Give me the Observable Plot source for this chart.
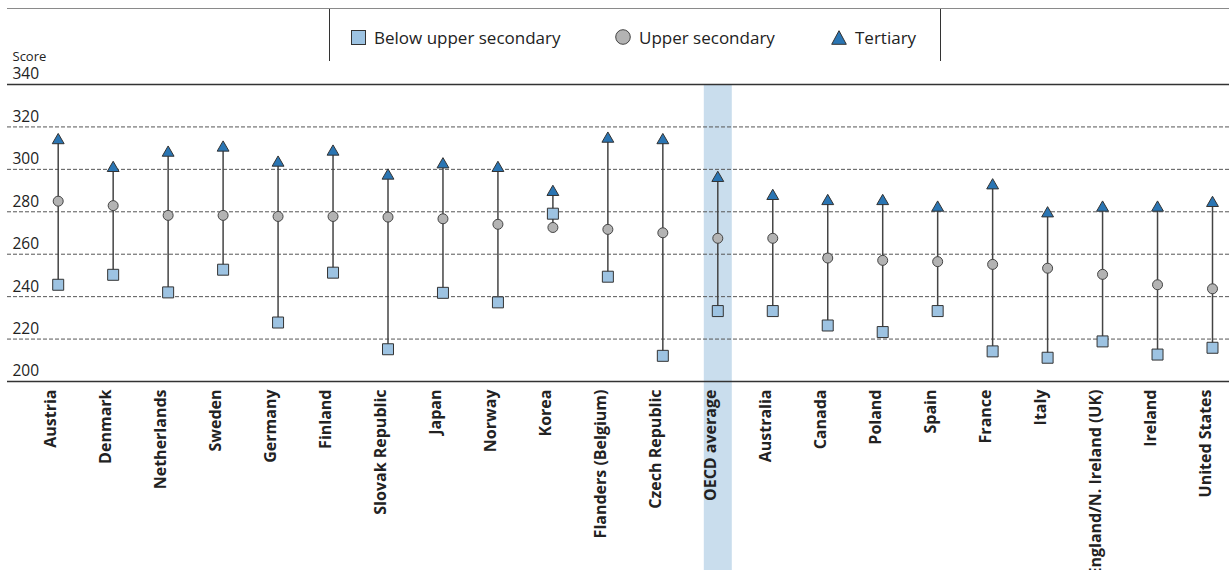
<!DOCTYPE html>
<html><head><meta charset="utf-8">
<script src="https://cdn.jsdelivr.net/npm/d3@7"></script>
<script src="https://cdn.jsdelivr.net/npm/@observablehq/plot@0.6"></script>
<style>
body{margin:0;background:#fff;font-family:"Open Sans",sans-serif;color:#222;}
#wrap{position:relative;width:1229px;height:570px;overflow:hidden;}
#chart{position:absolute;left:0;top:0;}
#topline{position:absolute;left:7px;right:0;top:8px;border-top:1.5px solid #8a8a8a;}
#legbox{position:absolute;left:329px;top:9px;width:610px;height:52px;border-left:1px solid #333;border-right:1px solid #333;}
.item{position:absolute;top:26px;height:22px;display:flex;align-items:center;font-size:17px;white-space:nowrap;}
.item svg{margin-right:8px;}
</style></head><body>
<div id="wrap"><div id="chart"></div><div id="topline"></div><div id="legbox"></div><div id="legend"></div></div>
<script>
const countries = ["Austria","Denmark","Netherlands","Sweden","Germany","Finland","Slovak Republic","Japan","Norway","Korea","Flanders (Belgium)","Czech Republic","OECD average","Australia","Canada","Poland","Spain","France","Italy","England/N. Ireland (UK)","Ireland","United States"];
const belowUpper = [245.6, 250.3, 242, 252.7, 227.8, 251.3, 215.2, 241.8, 237.3, 279.1, 249.4, 212.1, 233.2, 233.2, 226.4, 223.3, 233.2, 214.2, 211.2, 218.9, 212.7, 215.9];
const upperSecondary = [285, 282.9, 278.3, 278.3, 277.8, 277.8, 277.5, 276.7, 274.1, 272.6, 271.7, 270.1, 267.5, 267.5, 258.2, 257.1, 256.5, 255.2, 253.4, 250.5, 245.6, 243.7];
const tertiary = [313.7, 300.6, 307.8, 310.2, 303.1, 308.3, 297, 302.3, 300.6, 289.3, 314.4, 313.7, 295.9, 287.4, 285, 285, 281.9, 292.4, 279.2, 281.9, 281.9, 284.1];
const yTicks = [200, 220, 240, 260, 280, 300, 320, 340];
const seriesNames = ["Below upper secondary", "Upper secondary", "Tertiary"];
const highlight = "OECD average";
const yLabel = "Score";

const colors = {below: "#9dc3e2", upper: "#b3b3b3", tertiary: "#2a75b3"};

const rows = countries.map((c, i) => ({country: c, below: belowUpper[i], upper: upperSecondary[i], tertiary: tertiary[i]}));

const chart = Plot.plot({
  width: 1229, height: 570,
  marginTop: 84, marginBottom: 189, marginLeft: 7, marginRight: 0,
  x: {type: "point", domain: countries, range: [57.7, 1212], padding: 0, round: false, axis: null},
  y: {domain: [200, 340], axis: null},
  style: {fontFamily: "'Open Sans', sans-serif", background: "transparent", color: "#222"},
  marks: [
    Plot.ruleX([highlight], {x: d => d, stroke: "#c9dded", strokeWidth: 28, insetBottom: -189}),
    Plot.ruleY(yTicks.filter(v => v > 200 && v < 340), {y: d => d, stroke: "#555", strokeWidth: 1, strokeDasharray: "4,2"}),
    Plot.ruleY([200, 340], {y: d => d, stroke: "#333", strokeWidth: 1.5}),
    Plot.text(yTicks, {y: d => d, text: d => String(d), frameAnchor: "left", textAnchor: "start", dx: 5, dy: -10, fontSize: 15.5, fill: "#222"}),
    Plot.text([yLabel], {text: d => d, frameAnchor: "top-left", textAnchor: "start", dx: 5, dy: -33, fontSize: 13, fill: "#222"}),
    Plot.ruleX(rows, {x: "country", y1: d => Math.min(d.below, d.upper, d.tertiary), y2: d => Math.max(d.below, d.upper, d.tertiary), stroke: "#444", strokeWidth: 1.5}),
    Plot.dot(rows, {x: "country", y: "below", symbol: "square", r: 6.2, fill: colors.below, stroke: "#333", strokeWidth: 1}),
    Plot.dot(rows, {x: "country", y: "upper", symbol: "circle", r: 5, fill: colors.upper, stroke: "#444", strokeWidth: 1}),
    Plot.dot(rows, {x: "country", y: "tertiary", symbol: "triangle", r: 4.4, fill: colors.tertiary, stroke: "#333", strokeWidth: 1}),
    Plot.text(countries, {x: d => d, text: d => d, frameAnchor: "bottom", rotate: -90, textAnchor: "end", lineAnchor: "bottom", dx: -2, dy: 8, fontSize: 16, fontWeight: "bold", fill: "#222"})
  ]
});
document.getElementById("chart").appendChild(chart);

// legend
const legend = document.getElementById("legend");
const swatches = [
  `<svg width="15" height="15"><rect x="0.5" y="0.5" width="14" height="14" fill="${colors.below}" stroke="#333"/></svg>`,
  `<svg width="16" height="16"><circle cx="8" cy="8" r="7.3" fill="${colors.upper}" stroke="#444"/></svg>`,
  `<svg width="16" height="15"><path d="M8,0.7 L15.3,14.3 L0.7,14.3 Z" fill="${colors.tertiary}" stroke="#333"/></svg>`
];
const lefts = [351, 615, 831];
seriesNames.forEach((name, i) => {
  const d = document.createElement("div");
  d.className = "item";
  d.style.left = lefts[i] + "px";
  d.innerHTML = swatches[i] + `<span>${name}</span>`;
  legend.appendChild(d);
});
</script>
</body></html>
